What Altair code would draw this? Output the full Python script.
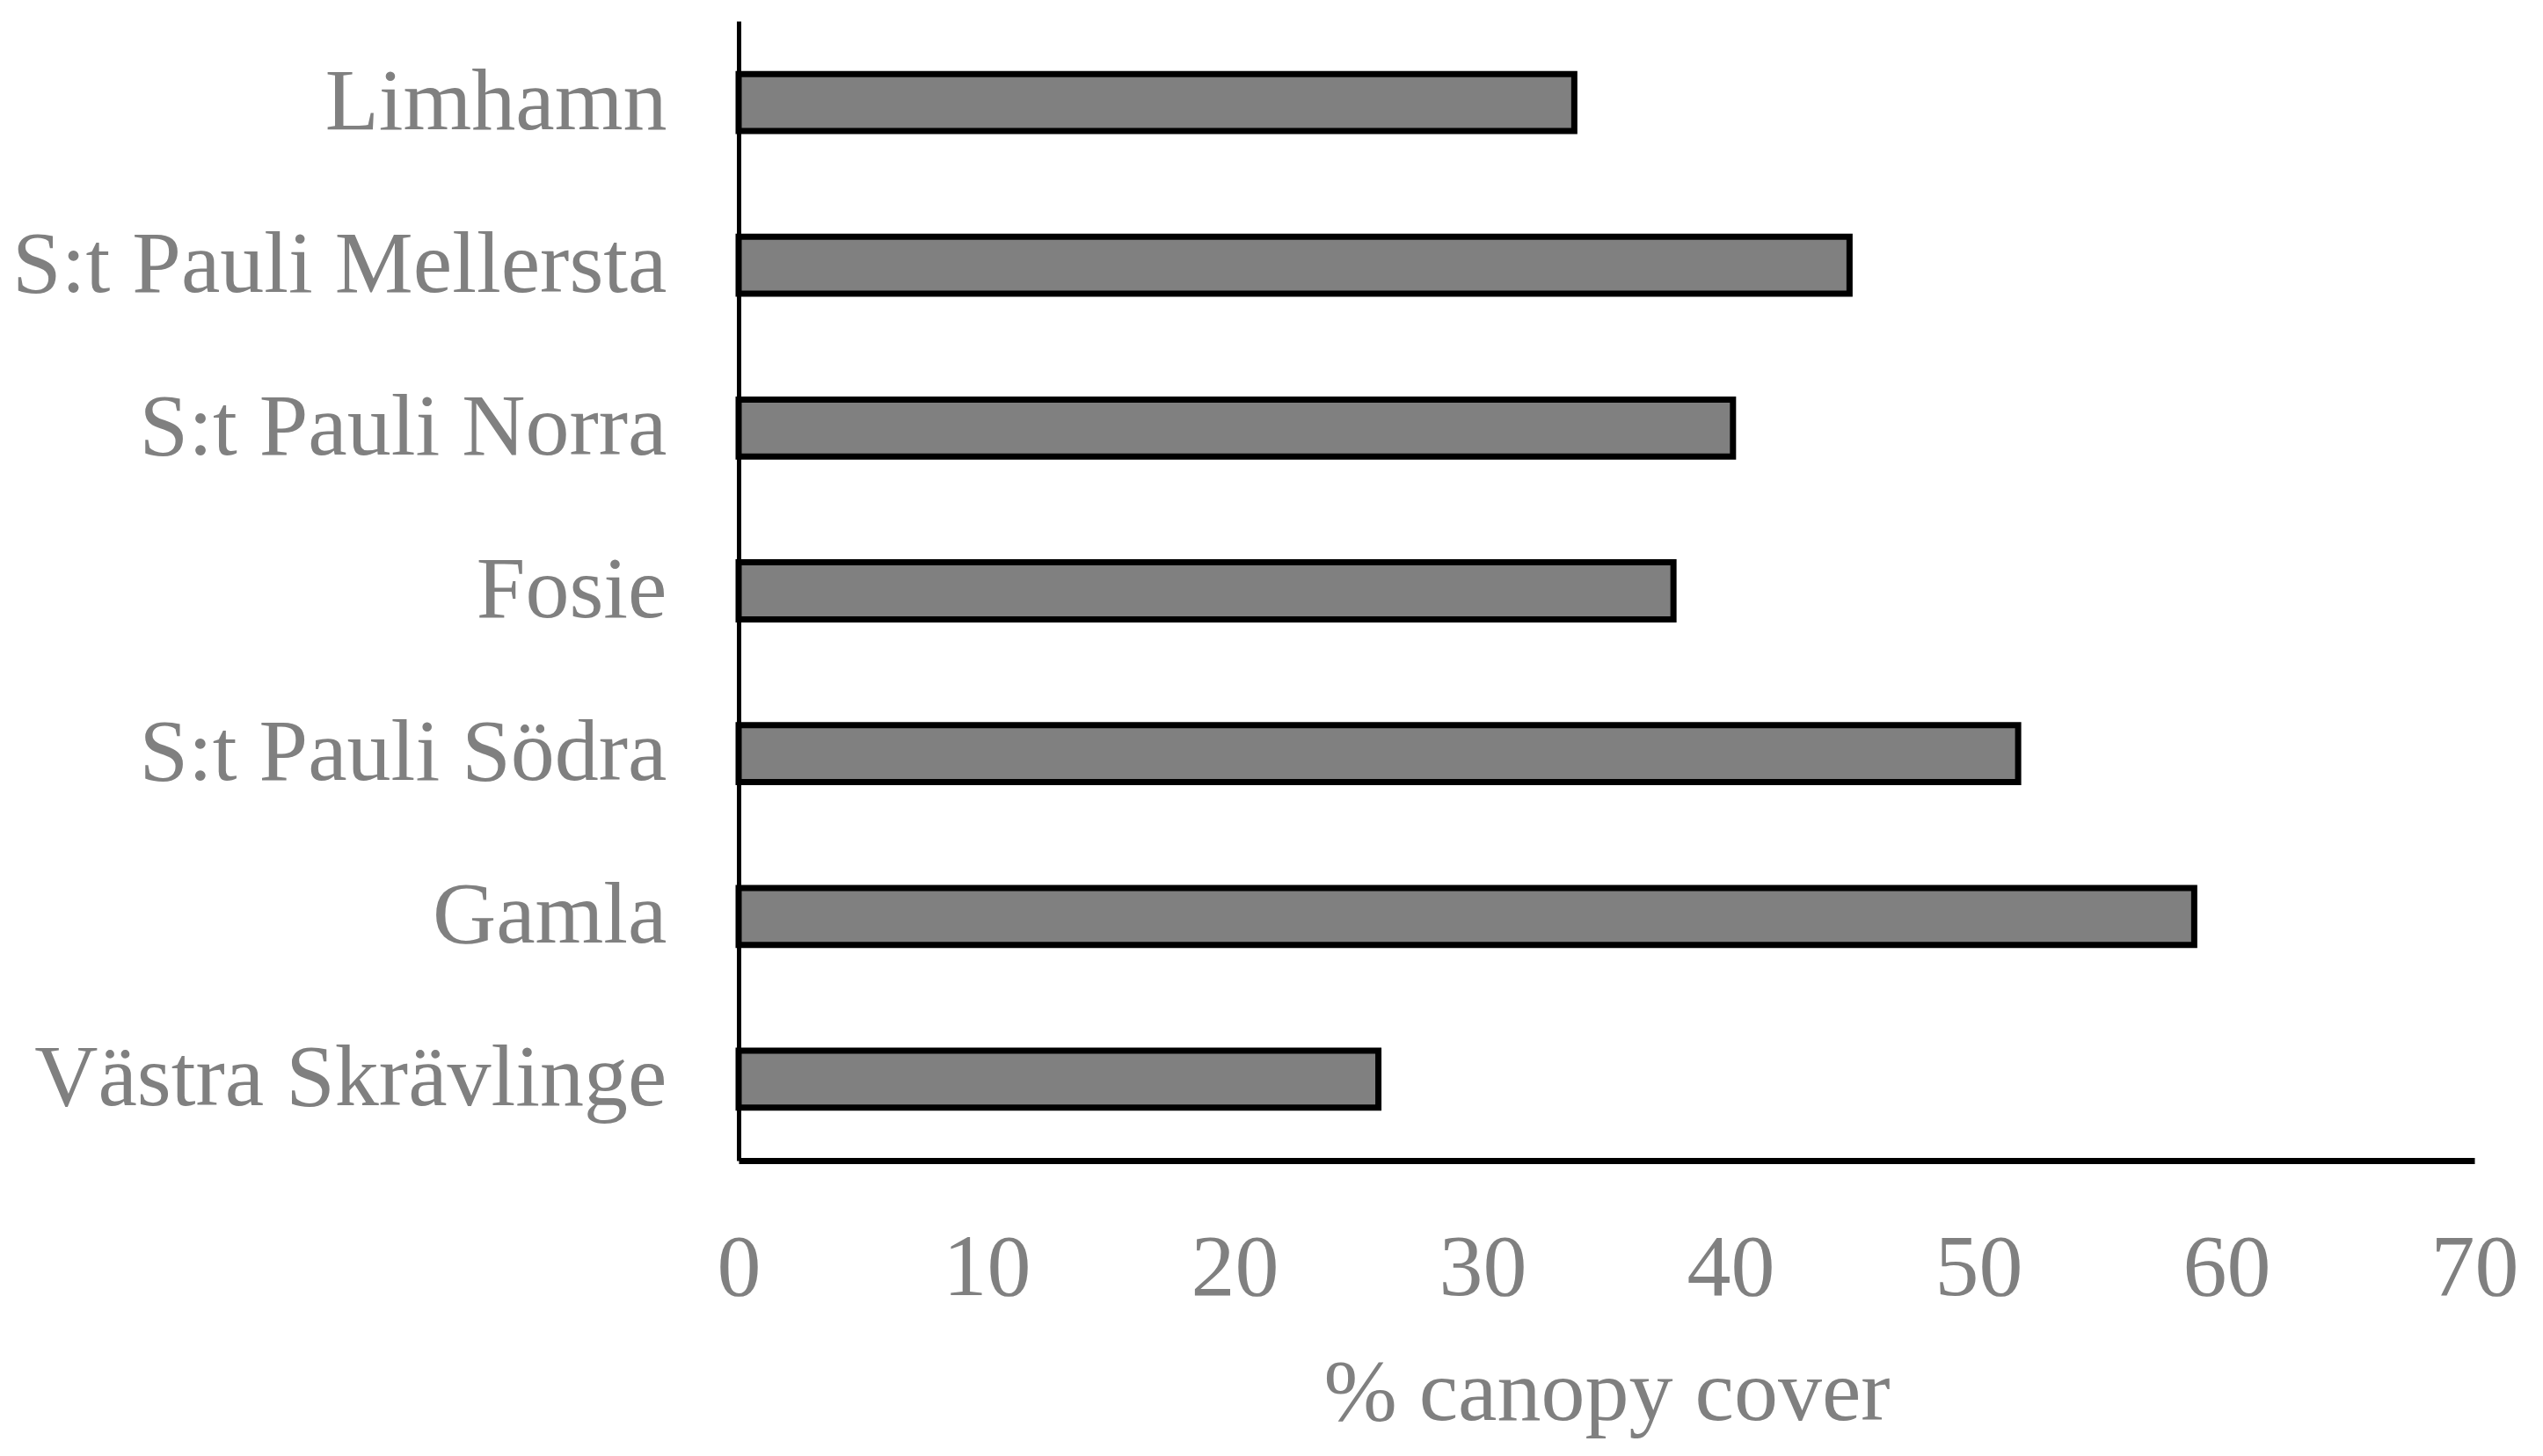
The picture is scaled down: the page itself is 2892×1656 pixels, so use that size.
import altair as alt
import pandas as pd

districts = ["Limhamn", "S:t Pauli Mellersta", "S:t Pauli Norra", "Fosie",
             "S:t Pauli Södra", "Gamla", "Västra Skrävlinge"]
canopy = [33.7, 44.8, 40.1, 37.7, 51.6, 58.7, 25.8]
x_ticks = [0, 10, 20, 30, 40, 50, 60, 70]

df = pd.DataFrame({"district": districts, "canopy": canopy})

FONT = "Liberation Serif"
GRAY = "#808080"
FS = 100

chart = alt.Chart(df).mark_bar(
    fill=GRAY, stroke="black", strokeWidth=7
).encode(
    x=alt.X("canopy:Q",
            scale=alt.Scale(domain=[0, 70], nice=False, zero=True),
            axis=alt.Axis(values=x_ticks, title="% canopy cover", grid=False,
                          ticks=False, labelPadding=73, domainColor="black",
                          domainWidth=7, labelFont=FONT, labelFontSize=FS,
                          labelColor=GRAY, titleFont=FONT, titleFontSize=FS,
                          titleFontWeight="normal", titleColor=GRAY,
                          titlePadding=43, labelFlush=False)),
    y=alt.Y("district:N", sort=districts,
            scale=alt.Scale(paddingInner=0.65, paddingOuter=0.325),
            axis=alt.Axis(title=None, grid=False, ticks=False, labelPadding=82,
                          domainColor="black", domainWidth=5, labelFont=FONT,
                          labelFontSize=FS, labelColor=GRAY, labelLimit=2000)),
).properties(
    width=1974, height=1296,
    background="white",
    padding={"left": 5, "top": 16, "right": 5, "bottom": 5},
    view=alt.ViewBackground(stroke="transparent", strokeWidth=0),
)

chart.save("out.html", embed_options={"renderer": "svg", "actions": False})
